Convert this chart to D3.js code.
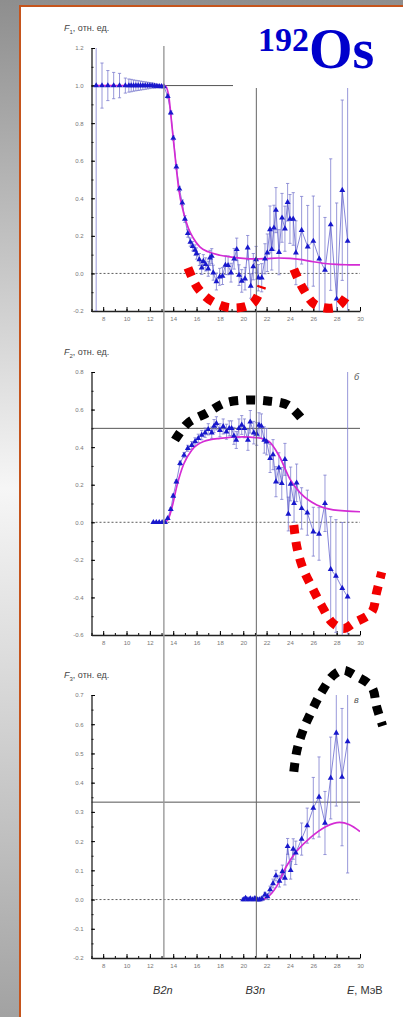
<!DOCTYPE html>
<html>
<head>
<meta charset="utf-8">
<script src="https://cdn.jsdelivr.net/npm/d3@7"></script>
<style>
  body { margin: 0; background: #fff; }
  svg { display: block; }
</style>
</head>
<body>
<script>
// ---- data ----
var energyTicks = [8, 10, 12, 14, 16, 18, 20, 22, 24, 26, 28, 30];

// F1
var e1 = [7.4, 7.9, 8.4, 8.9, 9.4, 9.9, 10.2, 10.4, 10.6, 10.8, 11.0, 11.2, 11.4, 11.6, 11.8, 12.0, 12.2, 12.4, 12.6, 12.8, 13.0, 13.2,
          13.53, 13.79, 14.01, 14.27, 14.53, 14.78, 15.0, 15.25, 15.47, 15.67, 15.87, 16.0, 16.24, 16.44, 16.58, 16.78, 17.0, 17.15, 17.3, 17.43,
          17.7, 17.98, 18.22, 18.47, 18.7, 18.95, 19.22, 19.44, 19.64, 19.87, 20.15, 20.38, 20.64, 20.86, 21.1, 21.29, 21.58, 21.86,
          22.06, 22.29, 22.44, 22.63, 22.8, 23.06, 23.32, 23.57, 23.8, 24.0, 24.28, 24.51, 25.0, 25.52, 26.0, 26.51, 27.0, 27.49, 28.0, 28.48, 28.94];
var f1 = [1.0, 1.0, 1.0, 1.0, 1.0, 1.0, 1.0, 1.0, 1.0, 1.0, 1.0, 1.0, 1.0, 1.0, 1.0, 1.0, 1.0, 0.998, 0.997, 0.996, 0.995, 0.995,
          0.943, 0.855, 0.72, 0.567, 0.45, 0.376, 0.29, 0.213, 0.167, 0.145, 0.124, 0.106, 0.074, 0.03, 0.065, 0.048, 0.025, 0.083, 0.092, 0.004,
          -0.043, -0.018, -0.014, 0.044, 0.043, 0.004, 0.078, 0.128, -0.009, -0.04, -0.028, 0.137, -0.067, 0.036, 0.074, -0.023, -0.023, 0.078,
          0.11, 0.234, 0.128, 0.243, 0.337, 0.113, 0.296, 0.238, 0.379, 0.29, 0.29, 0.11, 0.23, 0.142, 0.172, 0.078, 0.018, 0.26, -0.135, 0.443, 0.172];
var df1 = [1.2, 0.12, 0.08, 0.07, 0.065, 0.04, 0.035, 0.033, 0.03, 0.028, 0.026, 0.024, 0.022, 0.02, 0.018, 0.016, 0.014, 0.012, 0.01, 0.008, 0.006, 0.005,
           0.01, 0.01, 0.012, 0.012, 0.014, 0.015, 0.018, 0.02, 0.022, 0.025, 0.028, 0.03, 0.032, 0.035, 0.035, 0.035, 0.04, 0.04, 0.04, 0.04,
           0.045, 0.045, 0.045, 0.05, 0.05, 0.05, 0.055, 0.06, 0.055, 0.06, 0.06, 0.065, 0.065, 0.07, 0.07, 0.07, 0.075, 0.08,
           0.1, 0.125, 0.11, 0.12, 0.12, 0.12, 0.13, 0.12, 0.1, 0.13, 0.14, 0.17, 0.18, 0.22, 0.24, 0.28, 0.28, 0.35, 0.51, 0.48, 1.2];
var fitE1 = [7.4, 13.3, 13.6, 13.9, 14.2, 14.45, 14.9, 15.3, 15.7, 16.3, 17, 18, 19, 20, 21, 22, 23, 24, 25, 26, 27, 28, 29, 30];
var fitF1 = [1.0, 1.0, 0.95, 0.78, 0.6, 0.46, 0.32, 0.24, 0.19, 0.14, 0.115, 0.097, 0.087, 0.08, 0.077, 0.079, 0.082, 0.08, 0.073, 0.062, 0.053, 0.048, 0.046, 0.045];

// F2
var e2 = [12.3, 12.55, 12.8, 13.05, 13.3, 13.53, 13.79, 14.0, 14.27, 14.59, 14.93, 15.25, 15.59, 15.87, 16.15, 16.44, 16.73, 17.0, 17.3, 17.5,
          17.7, 18.0, 18.28, 18.56, 18.8, 19.0, 19.2, 19.4, 19.63, 19.87, 20.1, 20.4, 20.6, 20.9, 21.15, 21.35, 21.55, 21.8, 22.0,
          22.3, 22.55, 22.8, 23.05, 23.3, 23.57, 23.86, 24.06, 24.35, 24.57, 25.0, 25.49, 26.0, 26.49, 27.0, 27.49, 27.94, 28.48, 28.94];
var f2 = [0, 0, 0, 0, 0, 0.021, 0.069, 0.14, 0.216, 0.314, 0.358, 0.394, 0.41, 0.43, 0.447, 0.464, 0.477, 0.495, 0.477, 0.512,
          0.527, 0.49, 0.51, 0.482, 0.5, 0.5, 0.46, 0.438, 0.5, 0.518, 0.5, 0.438, 0.535, 0.477, 0.47, 0.518, 0.512, 0.438, 0.429,
          0.34, 0.36, 0.216, 0.29, 0.207, 0.335, 0.044, 0.204, 0.101, 0.21, 0.074, 0.051, -0.05, -0.062, 0.101, -0.25, -0.286, -0.351, -0.396];
var df2 = [0.004, 0.004, 0.004, 0.004, 0.004, 0.006, 0.008, 0.01, 0.01, 0.012, 0.014, 0.016, 0.02, 0.02, 0.022, 0.025, 0.025, 0.03, 0.03, 0.035,
           0.035, 0.035, 0.04, 0.04, 0.04, 0.04, 0.045, 0.045, 0.05, 0.05, 0.05, 0.055, 0.06, 0.06, 0.06, 0.065, 0.065, 0.07, 0.07,
           0.075, 0.08, 0.08, 0.08, 0.085, 0.085, 0.09, 0.09, 0.1, 0.1, 0.11, 0.12, 0.13, 0.14, 0.15, 0.28, 0.3, 0.35, 1.4];
var fitE2 = [13.3, 13.6, 13.9, 14.3, 14.9, 15.6, 16.6, 18, 20, 21.2, 22.2, 23.1, 24, 24.9, 26.3, 27.7, 30];
var fitF2 = [0, 0.02, 0.08, 0.19, 0.31, 0.385, 0.43, 0.447, 0.455, 0.45, 0.43, 0.35, 0.23, 0.155, 0.092, 0.066, 0.056];

// F3
var e3 = [20.0, 20.2, 20.4, 20.6, 20.8, 21.0, 21.2, 21.4, 21.6, 21.86, 22.07, 22.3, 22.55, 22.8, 23.1, 23.35, 23.57, 23.8, 24.06, 24.28, 24.5,
          25.0, 25.48, 26.0, 26.49, 27.0, 27.49, 27.97, 28.46, 28.94];
var f3 = [0, 0.005, 0, 0.003, 0, 0.004, 0, 0, 0.003, 0.017, 0.01, 0.034, 0.055, 0.082, 0.063, 0.096, 0.074, 0.182, 0.1, 0.173, 0.16,
          0.207, 0.253, 0.313, 0.351, 0.262, 0.416, 0.57, 0.419, 0.541];
var df3 = [0.005, 0.005, 0.005, 0.005, 0.005, 0.006, 0.006, 0.006, 0.007, 0.008, 0.01, 0.012, 0.015, 0.018, 0.02, 0.022, 0.024, 0.027, 0.03, 0.035, 0.04,
           0.055, 0.06, 0.105, 0.137, 0.108, 0.14, 0.25, 0.235, 0.45];
var fitE3 = [21.0, 21.5, 22.0, 22.86, 23.7, 24.57, 25.7, 27.1, 28.26, 29.1, 30];
var fitF3 = [0, 0.0, 0.006, 0.045, 0.114, 0.165, 0.21, 0.25, 0.264, 0.256, 0.233];

// thresholds and reference levels
var b2n = 13.2, b3n = 21.12;
var refLevels = [1.0, 0.5, 1 / 3];

// hand-drawn highlight arcs (in data units of each panel)
var redArcA = { e: [15.26, 16.11, 17.4, 19.11, 20.82, 21.59], f: [0.029, -0.078, -0.152, -0.184, -0.158, -0.067] };
var redArcB = { e: [24.33, 25.1, 26.2, 28.0, 29.12], f: [0.023, -0.078, -0.168, -0.179, -0.094] };
var blackArc2 = { e: [14.15, 15.26, 16.88, 18.42, 20.31, 22.1, 23.82, 25.1], f: [0.438, 0.528, 0.582, 0.635, 0.651, 0.646, 0.624, 0.544] };
var redArc2 = { e: [24.33, 24.59, 25.1, 25.87, 26.72, 27.66, 28.6, 29.46, 31.0, 31.43, 31.86], f: [-0.014, -0.131, -0.243, -0.344, -0.445, -0.536, -0.565, -0.536, -0.478, -0.371, -0.265] };
var blackArc3 = { e: [24.33, 24.59, 25.1, 25.87, 26.72, 27.75, 28.6, 29.46, 31.0, 31.43, 31.94], f: [0.437, 0.509, 0.577, 0.646, 0.711, 0.769, 0.785, 0.769, 0.728, 0.659, 0.594] };

function init() {
    var w = 403, h = 1017;

    var svg = d3.select("body")
                .append("svg")
                .attr("width", w)
                .attr("height", h);

    // slide background: gray strip + orange framed white sheet
    var grad = svg.append("defs").append("linearGradient")
                  .attr("id", "bg").attr("x1", 0).attr("y1", 0).attr("x2", 0).attr("y2", 1);
    [[0, "#8e8e8e"], [0.3, "#cfcfcf"], [0.48, "#f6f6f6"], [0.7, "#d4d4d4"], [1, "#a2a2a2"]].forEach(function(s) {
        grad.append("stop").attr("offset", s[0]).attr("stop-color", s[1]);
    });
    svg.append("rect").attr("width", w).attr("height", h).attr("fill", "url(#bg)");
    svg.append("rect")
       .attr("x", 20).attr("y", 6).attr("width", 420).attr("height", 1100)
       .attr("fill", "#fff").attr("stroke", "#c5541c").attr("stroke-width", 2);

    var x = d3.scaleLinear().domain([7, 30]).range([91.5, 360]);

    var panels = [
        { e: e1, f: f1, df: df1, fe: fitE1, ff: fitF1, y: d3.scaleLinear().domain([-0.2, 1.2]).range([311, 48]),
          major: d3.range(-0.2, 1.21, 0.2), minor: d3.range(-0.2, 1.21, 0.1), sub: "1", ref: refLevels[0], tag: null },
        { e: e2, f: f2, df: df2, fe: fitE2, ff: fitF2, y: d3.scaleLinear().domain([-0.6, 0.8]).range([635, 372]),
          major: d3.range(-0.6, 0.81, 0.2), minor: d3.range(-0.6, 0.81, 0.1), sub: "2", ref: refLevels[1], tag: "б" },
        { e: e3, f: f3, df: df3, fe: fitE3, ff: fitF3, y: d3.scaleLinear().domain([-0.2, 0.7]).range([958, 695]),
          major: d3.range(-0.2, 0.71, 0.1), minor: d3.range(-0.2, 0.71, 0.05), sub: "3", ref: refLevels[2], tag: "в" }
    ];

    var font = "'Liberation Sans', Arial, sans-serif";

    panels.forEach(function(p, i) {
        var g = svg.append("g");
        var top = p.y.range()[1], bottom = p.y.range()[0];

        g.append("clipPath").attr("id", "clip" + i)
         .append("rect").attr("x", x(7)).attr("y", top).attr("width", x(30) - x(7)).attr("height", bottom - top);

        // reference line and dotted zero line
        g.append("line")
         .attr("x1", x(7)).attr("x2", x(30)).attr("y1", p.y(p.ref)).attr("y2", p.y(p.ref))
         .attr("stroke", "#555").attr("stroke-width", 1);
        g.append("line")
         .attr("x1", x(7)).attr("x2", x(30)).attr("y1", p.y(0)).attr("y2", p.y(0))
         .attr("stroke", "#333").attr("stroke-width", 0.8).attr("stroke-dasharray", "2,2");

        // y axis (ticks inward)
        g.append("g")
         .attr("transform", "translate(" + x(7) + ",0)")
         .call(d3.axisLeft(p.y).tickValues(p.minor).tickSize(-2).tickFormat(""))
         .call(function(a) { a.select(".domain").remove(); });
        g.append("g")
         .attr("transform", "translate(" + x(7) + ",0)")
         .call(d3.axisLeft(p.y).tickValues(p.major).tickSizeInner(-3.5).tickSizeOuter(0).tickPadding(8)
                 .tickFormat(function(d) { return (Math.abs(d) < 1e-9 ? 0 : d).toFixed(1); }))
         .call(function(a) {
             a.select(".domain").attr("stroke", "#222").attr("stroke-width", 1.3);
             a.selectAll("text").attr("fill", "#777").style("font", "6px " + font);
         });

        // x axis
        g.append("g")
         .attr("transform", "translate(0," + bottom + ")")
         .call(d3.axisBottom(x).tickValues(d3.range(7, 31, 1)).tickSize(-2).tickFormat(""))
         .call(function(a) { a.select(".domain").remove(); });
        g.append("g")
         .attr("transform", "translate(0," + bottom + ")")
         .call(d3.axisBottom(x).tickValues(energyTicks).tickSizeInner(-4).tickSizeOuter(0).tickPadding(6))
         .call(function(a) {
             a.select(".domain").attr("stroke", "#222").attr("stroke-width", 1.3);
             a.selectAll("text").attr("fill", "#777").style("font", "6px " + font);
         });

        // axis title
        var lab = g.append("text")
                   .attr("x", 64).attr("y", top - 17)
                   .attr("fill", "#444")
                   .style("font", "9px " + font);
        lab.append("tspan").style("font-style", "italic").text("F");
        lab.append("tspan").attr("dy", 2.5).style("font-size", "6px").text(p.sub);
        lab.append("tspan").attr("dy", -2.5).text(", отн. ед.");

        if (p.tag) {
            g.append("text")
             .attr("x", x(30) - 6).attr("y", top + 8)
             .attr("fill", "#555")
             .style("font", "italic 9px " + font)
             .text(p.tag);
        }

        var pts = p.e.map(function(e, k) { return { e: e, f: p.f[k], d: p.df[k] }; });
        var data = g.append("g").attr("clip-path", "url(#clip" + i + ")");

        // error bars
        var eb = data.selectAll(".eb").data(pts).enter().append("g")
                     .attr("stroke", "#7d7dcf").attr("stroke-width", 0.8);
        eb.append("line")
          .attr("x1", d => x(d.e)).attr("x2", d => x(d.e))
          .attr("y1", d => p.y(d.f + d.d)).attr("y2", d => p.y(d.f - d.d));
        eb.append("line")
          .attr("x1", d => x(d.e) - 1.6).attr("x2", d => x(d.e) + 1.6)
          .attr("y1", d => p.y(d.f + d.d)).attr("y2", d => p.y(d.f + d.d));
        eb.append("line")
          .attr("x1", d => x(d.e) - 1.6).attr("x2", d => x(d.e) + 1.6)
          .attr("y1", d => p.y(d.f - d.d)).attr("y2", d => p.y(d.f - d.d));

        // connecting line
        data.append("path")
            .datum(pts)
            .attr("fill", "none").attr("stroke", "#4c4cc6").attr("stroke-width", 0.8).attr("opacity", 0.85)
            .attr("d", d3.line().x(d => x(d.e)).y(d => p.y(d.f)));

        // fit curve
        var fit = p.fe.map(function(e, k) { return [e, p.ff[k]]; });
        data.append("path")
            .datum(fit)
            .attr("fill", "none").attr("stroke", "#d42bd4").attr("stroke-width", 1.7)
            .attr("d", d3.line().x(d => x(d[0])).y(d => p.y(d[1])).curve(d3.curveMonotoneX));

        // triangles
        data.selectAll(".tri").data(pts).enter().append("path")
            .attr("d", d3.symbol().type(d3.symbolTriangle).size(15))
            .attr("transform", d => "translate(" + x(d.e) + "," + p.y(d.f) + ")")
            .attr("fill", "#1818cc");
    });

    // threshold lines through all panels
    svg.append("line")
       .attr("x1", x(b2n)).attr("x2", x(b2n)).attr("y1", 46).attr("y2", 958)
       .attr("stroke", "#9a9a9a").attr("stroke-width", 1.4);
    svg.append("line")
       .attr("x1", x(b3n)).attr("x2", x(b3n)).attr("y1", 46).attr("y2", 958)
       .attr("stroke", "#666").attr("stroke-width", 1);

    // highlight arcs
    function arc(a, yScale, color) {
        var pts = a.e.map(function(e, k) { return [x(e), yScale(a.f[k])]; });
        svg.append("path")
           .datum(pts)
           .attr("fill", "none").attr("stroke", color).attr("stroke-width", 9)
           .attr("stroke-dasharray", "9,8")
           .attr("d", d3.line().curve(d3.curveCatmullRom));
    }
    arc(redArcA, panels[0].y, "#f20000");
    arc(redArcB, panels[0].y, "#f20000");
    arc(blackArc2, panels[1].y, "#000");
    arc(redArc2, panels[1].y, "#f20000");
    arc(blackArc3, panels[2].y, "#000");

    // title box
    svg.append("rect").attr("x", 233).attr("y", 7).attr("width", 170).attr("height", 81).attr("fill", "#fff");
    var title = svg.append("text").attr("fill", "#0000cc").style("font-family", "'Liberation Serif', 'Times New Roman', serif")
                   .style("font-weight", "bold");
    title.append("tspan").attr("x", 258).attr("y", 51).style("font-size", "34px").text("192");
    title.append("tspan").attr("y", 68).style("font-size", "56px").text("Os");

    // bottom labels
    var bl = svg.append("g").attr("fill", "#333").style("font", "italic 11px " + font);
    bl.append("text").attr("x", x(b2n) - 1).attr("y", 994).attr("text-anchor", "middle").text("B2n");
    bl.append("text").attr("x", x(b3n) - 1).attr("y", 994).attr("text-anchor", "middle").text("B3n");
    var el = bl.append("text").attr("x", 347).attr("y", 994);
    el.append("tspan").text("E");
    el.append("tspan").style("font-style", "normal").text(", МэВ");
}

window.onload = init;
</script>
</body>
</html>
